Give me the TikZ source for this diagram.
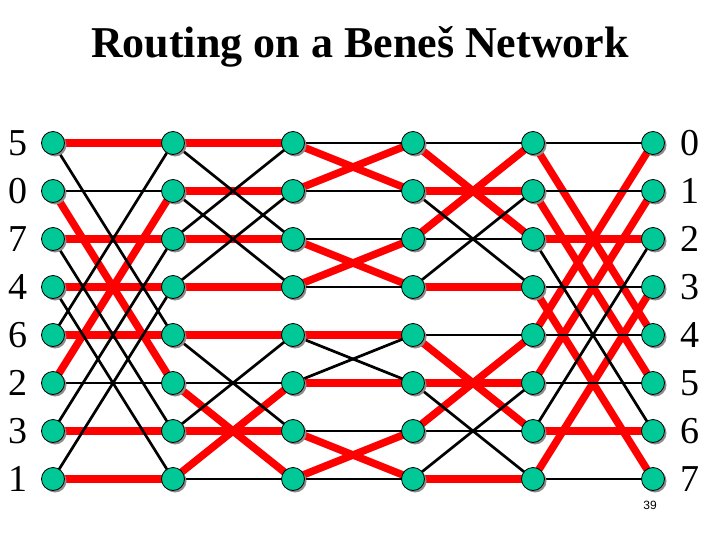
\documentclass[tikz,border=0pt]{standalone}
\usepackage{fontspec}
\setmainfont{Liberation Serif}
\newfontfamily\smallsans{Liberation Sans}
\usetikzlibrary{shadows}
\definecolor{nodegreen}{RGB}{0,200,150}
\definecolor{pathred}{RGB}{255,0,0}
\tikzset{
  sw/.style={circle,fill=nodegreen,draw=black,line width=0.8pt,minimum size=23pt,inner sep=0pt,
    drop shadow={shadow xshift=2pt,shadow yshift=-2pt,fill=gray!90,opacity=1}},
  redlink/.style={pathred,line width=7.5pt},
  blacklink/.style={black,line width=2.7pt},
  lab/.style={font=\fontsize{38}{40}\selectfont,inner sep=0pt},
}
\begin{document}
\begin{tikzpicture}[x=1pt,y=-1pt]
\useasboundingbox (0,0) rectangle (720,540);
\node[font=\fontsize{44}{48}\selectfont\bfseries] (title) at (360,47) {Routing on a Beneš Network};
% coordinates of switches
\foreach \c in {0,...,5}{
  \foreach \r in {0,...,7}{
    \coordinate (p\c-\r) at ({53+120*\c},{143+48*\r});
  }
}
% nodes (drawn first so links can use names, then redrawn on top)
\foreach \c in {0,...,5}{
  \foreach \r in {0,...,7}{
    \node[circle,minimum size=23pt,inner sep=0pt] (n\c-\r) at (p\c-\r) {};
  }
}
% red links
\foreach \s/\list in {0/{0/0,1/5,2/2,3/3,4/4,5/1,6/6,7/7},
                       1/{0/0,1/1,2/2,3/3,4/4,5/7,6/6,7/5},
                       2/{0/1,1/0,2/3,3/2,4/4,5/5,6/7,7/6},
                       3/{0/2,1/1,2/0,3/3,4/6,5/5,6/4,7/7},
                       4/{0/4,1/5,2/2,3/7,4/0,5/1,6/6,7/3}}{
  \pgfmathtruncatemacro{\t}{\s+1}
  \foreach \a/\b in \list{
    \draw[redlink] (n\s-\a.center) -- (n\t-\b.center);
  }
}
% black links
\foreach \s/\list in {0/{0/4,1/1,2/6,3/7,4/0,5/5,6/2,7/3},
                       1/{0/2,1/3,2/0,3/1,4/6,5/5,6/4,7/7},
                       2/{0/0,1/1,2/2,3/3,4/5,5/4,6/6,7/7},
                       3/{0/0,1/3,2/2,3/1,4/4,5/7,6/6,7/5},
                       4/{0/0,1/1,2/6,3/3,4/4,5/5,6/2,7/7}}{
  \pgfmathtruncatemacro{\t}{\s+1}
  \foreach \a/\b in \list{
    \draw[blacklink] (n\s-\a.center) -- (n\t-\b.center);
  }
}
% visible switch nodes
\foreach \c in {0,...,5}{
  \foreach \r in {0,...,7}{
    \node[sw] (v\c-\r) at (p\c-\r) {};
  }
}
% labels
\foreach \r/\l in {0/5,1/0,2/7,3/4,4/6,5/2,6/3,7/1}{
  \node[lab] (in\r) at ({18},{143+48*\r}) {\l};
}
\foreach \r in {0,...,7}{
  \node[lab] (out\r) at ({690},{143+48*\r}) {\r};
}
\node[font=\smallsans\fontsize{12}{14}\selectfont] (pagenum) at (650,505) {39};
\end{tikzpicture}
\end{document}
